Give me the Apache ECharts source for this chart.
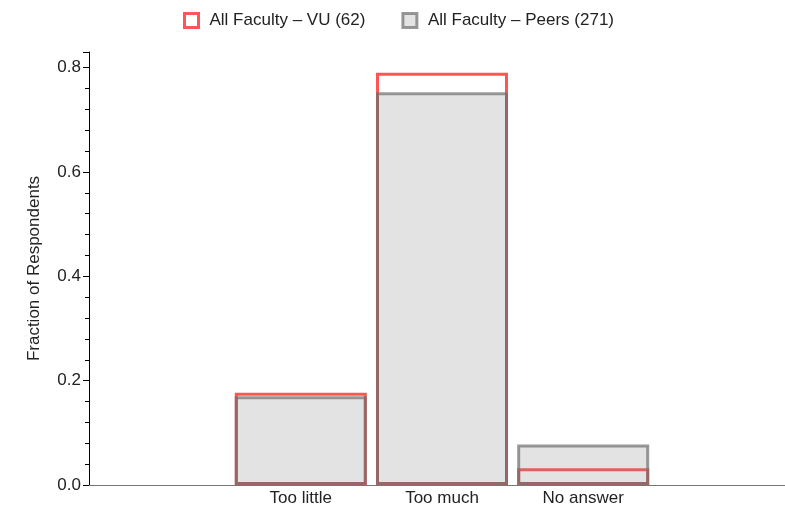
<!DOCTYPE html>
<html>
<head>
<meta charset="utf-8">
<script src="https://cdn.jsdelivr.net/npm/echarts@6/dist/echarts.min.js"></script>
<style>
  html, body { margin: 0; padding: 0; background: #fff; overflow: hidden; }
  /* wider than the window: the x axis runs off the right edge like the original */
  #chart { width: 795px; height: 517px; }
</style>
</head>
<body>
<div id="chart"></div>
<script>
// categories padded with empty slots on both sides, as in the original
const categories = ['', 'Too little', 'Too much', 'No answer', ''];
const vuValues = [null, 0.177, 0.790, 0.032, null];
const peerValues = [null, 0.170, 0.753, 0.0775, null];
const yTicks = [0, 0.2, 0.4, 0.6, 0.8];

const chart = echarts.init(document.getElementById('chart'));

chart.setOption({
  animation: false,
  textStyle: { fontFamily: 'Liberation Sans, Arial, sans-serif' },
  legend: {
    top: 12,
    left: 183,
    padding: 0,
    icon: 'rect',
    itemWidth: 14,
    itemHeight: 14,
    itemGap: 36,
    itemStyle: { borderWidth: 3 },
    textStyle: { fontSize: 17, color: '#222', padding: [0, 0, 0, 6] },
    data: ['All Faculty – VU (62)', 'All Faculty – Peers (271)']
  },
  grid: { left: 89, right: 0, top: 52, bottom: 32 },
  xAxis: {
    type: 'category',
    data: categories,
    axisLine: { lineStyle: { color: '#777', width: 1 } },
    axisTick: {
      inside: true,
      length: 4,
      alignWithLabel: true,
      interval: (i, v) => v !== '',
      lineStyle: { color: '#333' }
    },
    axisLabel: { fontSize: 17, color: '#222', margin: 5 }
  },
  yAxis: {
    type: 'value',
    min: yTicks[0],
    max: 0.83,
    interval: 0.2,
    name: 'Fraction of Respondents',
    nameLocation: 'middle',
    nameGap: 46,
    nameTextStyle: { fontSize: 17, color: '#222' },
    axisLine: { show: true, lineStyle: { color: '#000' } },
    axisTick: { show: true, length: 6, lineStyle: { color: '#000' } },
    minorTick: { show: true, splitNumber: 5, length: 4, lineStyle: { color: '#000' } },
    splitLine: { show: false },
    axisLabel: {
      fontSize: 17, color: '#222', showMaxLabel: false, margin: 8,
      formatter: v => v.toFixed(1)
    }
  },
  series: [
    {
      name: 'All Faculty – VU (62)',
      type: 'bar',
      data: vuValues,
      barGap: '-100%',
      barCategoryGap: '6.5%',
      itemStyle: {
        color: 'rgba(255,255,255,0)',
        borderColor: '#ff5555',
        borderWidth: 3
      }
    },
    {
      name: 'All Faculty – Peers (271)',
      type: 'bar',
      data: peerValues,
      barGap: '-100%',
      barCategoryGap: '6.5%',
      itemStyle: {
        color: 'rgba(128,128,128,0.22)',
        borderColor: 'rgba(110,110,110,0.7)',
        borderWidth: 3
      }
    }
  ]
});
</script>
</body>
</html>
